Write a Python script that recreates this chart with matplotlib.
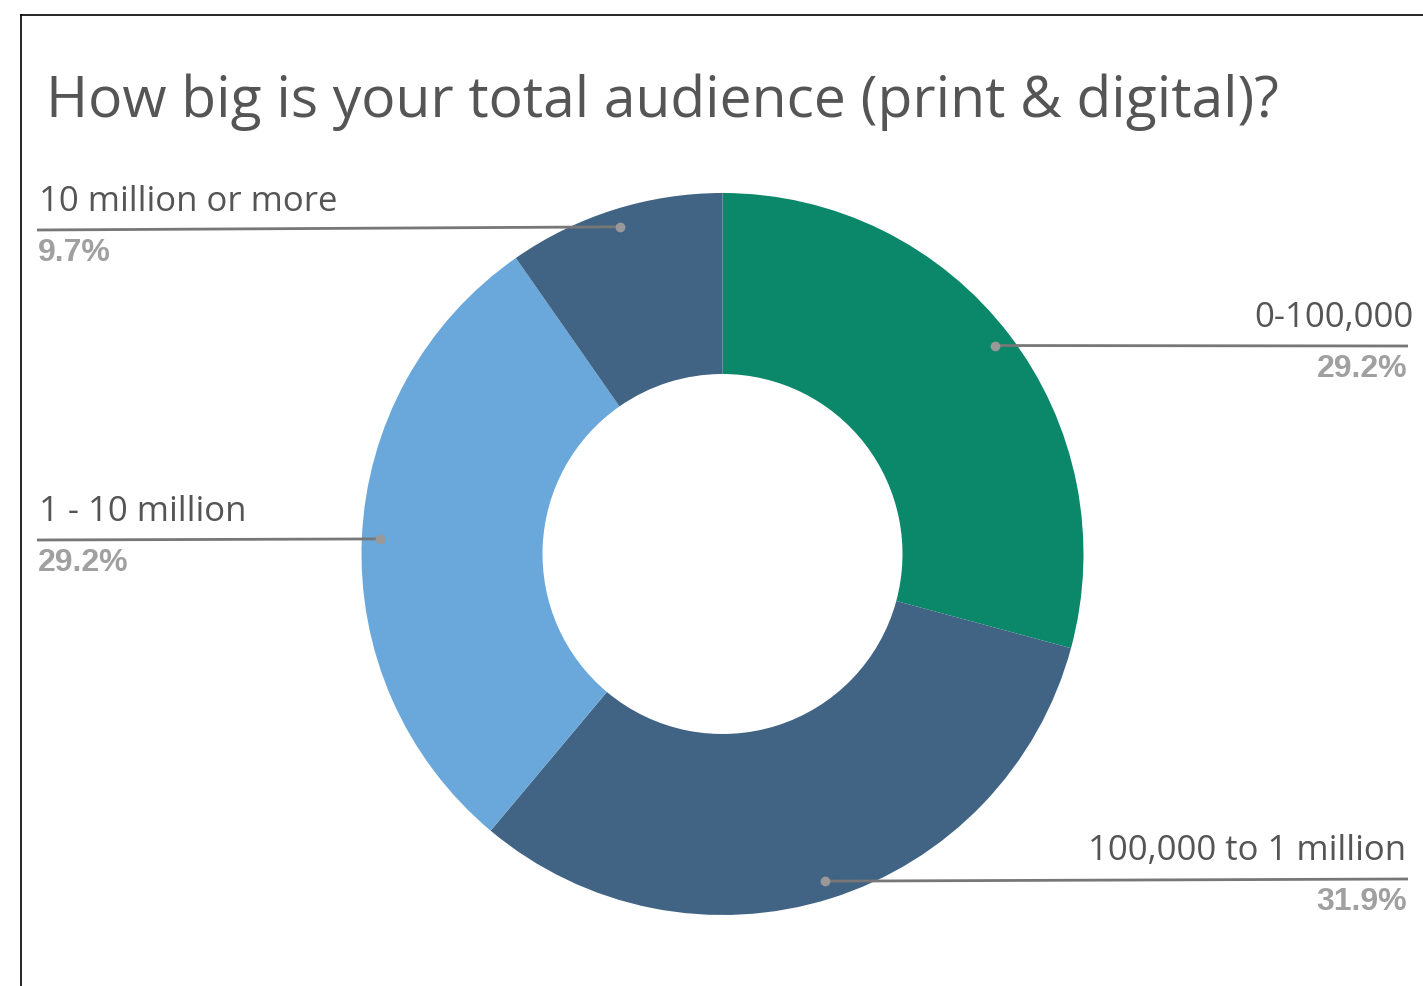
import matplotlib.pyplot as plt
import numpy as np

W, H = 1423, 987

categories = ['0-100,000', '100,000 to 1 million', '1 - 10 million', '10 million or more']
shares = [29.2, 31.9, 29.2, 9.7]
colors = ['#0b8769', '#416485', '#6aa7da', '#416485']

title = 'How big is your total audience (print & digital)?'

# label layout in pixels: x of name, x where the leader ends, y of leader from top
label_pos = [
    (1414, 1408, 347, 'right'),
    (1406, 1408, 880, 'right'),
    (39, 37, 541, 'left'),
    (39, 37, 231, 'left'),
]

fig = plt.figure(figsize=(W / 100, H / 100), dpi=100)
ax = fig.add_axes([0, 0, 1, 1])

cx, cy = 722.5, H - 555
R = 361
ax.pie(shares, colors=colors, startangle=90, counterclock=False,
       radius=R, center=(cx, cy), frame=True,
       wedgeprops=dict(width=R - 180, linewidth=0))
ax.set_xlim(0, W)
ax.set_ylim(0, H)
ax.set_aspect('equal')
ax.axis('off')

# frame lines on top and left
ax.plot([21, W], [H - 16, H - 16], color='black', lw=1.2, clip_on=False)
ax.plot([21, 21], [H - 16, 0], color='black', lw=1.2, clip_on=False)

ax.text(46, H - 102, title, fontsize=41, color='#555555', family='Open Sans',
        ha='left', va='center')

cum = np.cumsum([0] + shares[:-1])
for name, val, c0, (tx, lx, ly, ha) in zip(categories, shares, cum, label_pos):
    ang = np.deg2rad(90 - (c0 + val / 2) * 3.6)
    dx = cx + 0.95 * R * np.cos(ang)
    dy = cy + 0.95 * R * np.sin(ang)
    ly = H - ly
    ax.plot([dx, lx], [dy, ly], color='#777777', lw=2, solid_capstyle='butt')
    ax.plot(dx, dy, 'o', color='#999999', ms=6)
    ax.text(tx, ly + 12, name, fontsize=25, color='#555555', family='Open Sans',
            ha=ha, va='bottom')
    px = lx - 1 if ha == 'right' else lx + 1
    ax.text(px, ly - 7, f'{val:.1f}%', fontsize=23,
            color='#a0a0a0', family='Liberation Sans', fontweight='bold',
            ha=ha, va='top')

fig.savefig('out.png', dpi=100)
